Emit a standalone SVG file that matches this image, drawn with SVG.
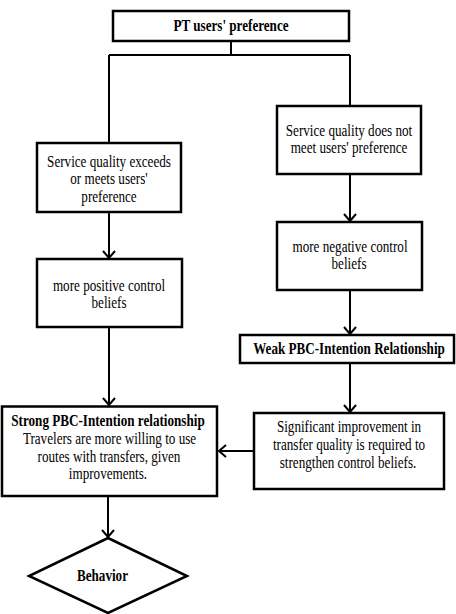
<svg xmlns="http://www.w3.org/2000/svg" width="456" height="614" viewBox="0 0 456 614">
<defs>
<style>
.box{fill:#fff;stroke:#000;stroke-width:2.5}
.t{font-family:"Liberation Serif","Times New Roman",serif;font-size:16px;fill:#000;text-anchor:middle}
.b{font-weight:bold}
.c{fill:none;stroke:#000;stroke-width:2}
</style>
<marker id="ah" markerUnits="userSpaceOnUse" markerWidth="12" markerHeight="14" refX="8" refY="7" orient="auto">
<path d="M1,1 L8,7 L1,13" fill="none" stroke="#000" stroke-width="2"/>
</marker>
</defs>
<rect width="456" height="614" fill="#fff"/>
<g id="connectors">
<path class="c" d="M231,41 V55 M109,55 H350 M109,55 V143 M350,55 V106"/>
<path class="c" d="M109,212 V258" marker-end="url(#ah)"/>
<path class="c" d="M109,327 V405" marker-end="url(#ah)"/>
<path class="c" d="M350,174 V221" marker-end="url(#ah)"/>
<path class="c" d="M350,290 V334" marker-end="url(#ah)"/>
<path class="c" d="M350,363 V412" marker-end="url(#ah)"/>
<path class="c" d="M254,451 H219" marker-end="url(#ah)"/>
<path class="c" d="M108,496 V537" marker-end="url(#ah)"/>
</g>
<g id="n_top">
<rect class="box" x="113" y="11" width="236" height="30"/>
<text class="t b" transform="translate(231,31) scale(0.82,1)">PT users' preference</text>
</g>
<g id="n_exceeds">
<rect class="box" x="37" y="143" width="144" height="69"/>
<text class="t" transform="translate(109,167) scale(0.82,1)">Service quality exceeds</text>
<text class="t" transform="translate(109,184) scale(0.82,1)">or meets users'</text>
<text class="t" transform="translate(109,202) scale(0.82,1)">preference</text>
</g>
<g id="n_notmeet">
<rect class="box" x="277" y="106" width="144" height="68"/>
<text class="t" transform="translate(349,136) scale(0.82,1)">Service quality does not</text>
<text class="t" transform="translate(349,153) scale(0.82,1)">meet users' preference</text>
</g>
<g id="n_positive">
<rect class="box" x="37" y="259" width="145" height="68"/>
<text class="t" transform="translate(109,291) scale(0.82,1)">more positive control</text>
<text class="t" transform="translate(109,308) scale(0.82,1)">beliefs</text>
</g>
<g id="n_negative">
<rect class="box" x="277" y="222" width="145" height="68"/>
<text class="t" transform="translate(350,252) scale(0.82,1)">more negative control</text>
<text class="t" transform="translate(349,269) scale(0.82,1)">beliefs</text>
</g>
<g id="n_weak">
<rect class="box" x="240" y="335" width="214" height="28"/>
<text class="t b" transform="translate(349,354) scale(0.82,1)">Weak PBC-Intention Relationship</text>
</g>
<g id="n_significant">
<rect class="box" x="254" y="413" width="190" height="76"/>
<text class="t" transform="translate(349,432) scale(0.82,1)">Significant improvement  in</text>
<text class="t" transform="translate(349,450) scale(0.82,1)">transfer quality is required to</text>
<text class="t" transform="translate(348,468) scale(0.82,1)">strengthen control beliefs.</text>
</g>
<g id="n_strong">
<rect class="box" x="2" y="406.5" width="215" height="89.5"/>
<text class="t b" transform="translate(108,426) scale(0.82,1)">Strong PBC-Intention relationship</text>
<text class="t" transform="translate(109.5,444) scale(0.82,1)">Travelers are more willing to use</text>
<text class="t" transform="translate(109,462) scale(0.82,1)">routes with transfers, given</text>
<text class="t" transform="translate(108,479) scale(0.82,1)">improvements.</text>
</g>
<g id="n_behavior">
<polygon class="box" points="108,538 187,576 108,613 29,576"/>
<text class="t b" transform="translate(102.5,581) scale(0.82,1)">Behavior</text>
</g>
</svg>
